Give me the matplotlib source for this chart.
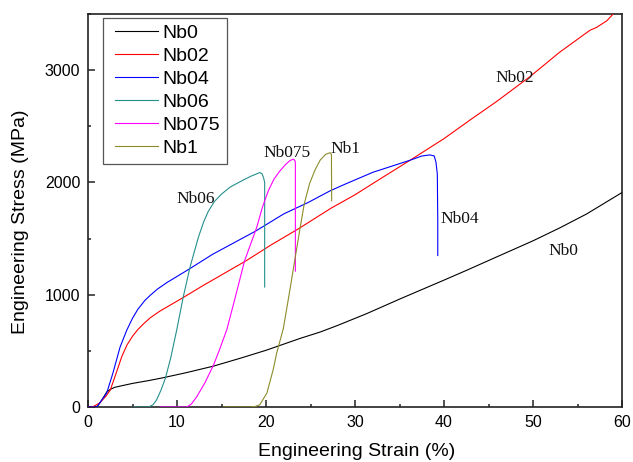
import matplotlib
matplotlib.use("Agg")
import matplotlib.pyplot as plt
from matplotlib.lines import Line2D
from matplotlib.legend_handler import HandlerLine2D
from matplotlib.ticker import MultipleLocator

# engineering strain (%) / stress (MPa)
nb0_x = [0, 1.0, 1.5, 2.1, 2.5, 3.0, 3.6, 5, 7, 8.4, 11, 14.1, 17.1, 20, 23.8, 26.1, 28, 31.3,
         35.1, 40, 42.5, 46.3, 50, 53, 56, 60]
nb0_y = [0, 0, 55, 133, 157, 175, 186, 210, 238, 260, 305, 364, 434, 505, 610, 668, 725, 831,
         964, 1130, 1216, 1350, 1480, 1595, 1718, 1910]

nb02_x = [0, 0.5, 1.3, 2.0, 2.5, 3.2, 3.8, 4.4, 5.0, 5.6, 6.3, 7.0, 8.1, 10.7, 13, 17.8, 20.5,
          23.6, 27.3, 30, 33, 36.2, 40, 43, 45.9, 49.7, 53, 56.4, 57.15, 58.3, 59, 60]
nb02_y = [0, 0, 35, 95, 150, 310, 450, 555, 630, 690, 745, 795, 855, 975, 1085, 1304, 1440,
          1585, 1770, 1890, 2040, 2198, 2390, 2560, 2720, 2945, 3160, 3355, 3381, 3440, 3500, 3570]

nb04_x = [0, 1.0, 2.1, 2.8, 3.6, 4.35, 5.0, 5.6, 6.4, 7.0, 7.8, 8.9, 11.3, 14, 18.8, 22, 24.75,
          27.2, 28.9, 32, 36.2, 37.5, 38.4, 38.9, 39.1, 39.25, 39.3, 39.3]
nb04_y = [0, 0, 124, 302, 533, 683, 790, 870, 950, 995, 1050, 1110, 1225, 1360, 1565, 1720, 1822,
          1925, 1985, 2090, 2198, 2235, 2245, 2236, 2180, 2073, 1659, 1349]

nb06_x = [5.1, 6.8, 7.3, 7.7, 8.2, 8.7, 9.3, 9.96, 10.7, 11.46, 12.4, 13.0, 13.5, 14.2, 15.0,
          16.0, 17.27, 18.3, 19.3, 19.55, 19.75, 19.85, 19.85]
nb06_y = [0, 0, 20, 62, 150, 257, 440, 683, 979, 1245, 1511, 1650, 1740, 1830, 1896,
          1960, 2014, 2055, 2088, 2078, 2035, 2000, 1068]

nb075_x = [8.1, 11.1, 11.6, 12.2, 13.1, 14.1, 14.8, 15.6, 16.5, 17.6, 18.96, 19.6, 20.26, 20.9,
           21.57, 22.2, 22.7, 23.07, 23.25, 23.3, 23.3]
nb075_y = [0, 0, 25, 89, 210, 373, 515, 690, 962, 1304, 1600, 1780, 1925, 2030,
           2103, 2160, 2195, 2207, 2195, 2177, 1210]

nb1_x = [15.2, 18.2, 18.8, 19.3, 20.1, 20.8, 21.2, 21.95, 22.7, 23.8, 24.3, 24.9, 25.5,
         26.1, 26.7, 27.2, 27.35, 27.38]
nb1_y = [0, 0, 5, 20, 124, 330, 480, 700, 1050, 1580, 1810, 1990, 2110,
         2200, 2250, 2265, 2250, 1837]

names = ["Nb0", "Nb02", "Nb04", "Nb06", "Nb075", "Nb1"]
colors = ["black", "#ff0000", "#0000ff", "#24908c", "#ff00ff", "#8c8c2a"]
series = [(nb0_x, nb0_y), (nb02_x, nb02_y), (nb04_x, nb04_y),
          (nb06_x, nb06_y), (nb075_x, nb075_y), (nb1_x, nb1_y)]

# curve labels (x, y at baseline)
label_pos = {"Nb06": (12.1, 1816), "Nb075": (22.4, 2226), "Nb1": (28.9, 2261),
             "Nb02": (47.9, 2896), "Nb04": (41.8, 1635), "Nb0": (53.4, 1353)}

fig = plt.figure(figsize=(6.33, 4.62), dpi=100)
ax = fig.add_axes([88 / 633, 55 / 462, 534 / 633, 393 / 462])

for name, c, (xs, ys) in zip(names, colors, series):
    ax.plot(xs, ys, color=c, lw=0.8, label=name, zorder=3)

for name, (tx, ty) in label_pos.items():
    ax.text(tx, ty, name, ha="center", va="baseline", fontsize=12.5,
            family="Liberation Serif", color="#111111")

ax.set_xlim(0, 60)
ax.set_ylim(0, 3500)
ax.xaxis.set_major_locator(MultipleLocator(10))
ax.xaxis.set_minor_locator(MultipleLocator(5))
ax.yaxis.set_major_locator(MultipleLocator(1000))
ax.yaxis.set_minor_locator(MultipleLocator(500))
ax.tick_params(which="both", direction="in", top=False, right=False, width=1.1,
               color="#222222", labelsize=11.5, pad=5.5)
ax.tick_params(which="major", length=5)
ax.tick_params(which="minor", length=2.5)
for lbl in ax.get_xticklabels() + ax.get_yticklabels():
    lbl.set_family("Liberation Sans")
for sp in ax.spines.values():
    sp.set_linewidth(1.2)
    sp.set_color("#222222")

ax.set_xlabel("Engineering Strain (%)", fontsize=14, family="Liberation Sans", va="center")
ax.set_ylabel("Engineering Stress (MPa)", fontsize=14, family="Liberation Sans", va="center")
ax.xaxis.set_label_coords(0.503, -0.112)
ax.yaxis.set_label_coords(-0.127, 0.472)

fs = 14
leg = ax.legend(loc="upper left", bbox_to_anchor=(0.028, 0.99), borderaxespad=0,
                prop={"family": "Liberation Sans", "size": fs},
                frameon=True, fancybox=False, edgecolor="#555555", framealpha=1,
                borderpad=0.33, labelspacing=0.28, handlelength=2.5, handletextpad=0.25,
                handler_map={Line2D: HandlerLine2D(xpad=0.3)})
leg.get_frame().set_linewidth(0.9)

fig.savefig("out.png", dpi=100)
